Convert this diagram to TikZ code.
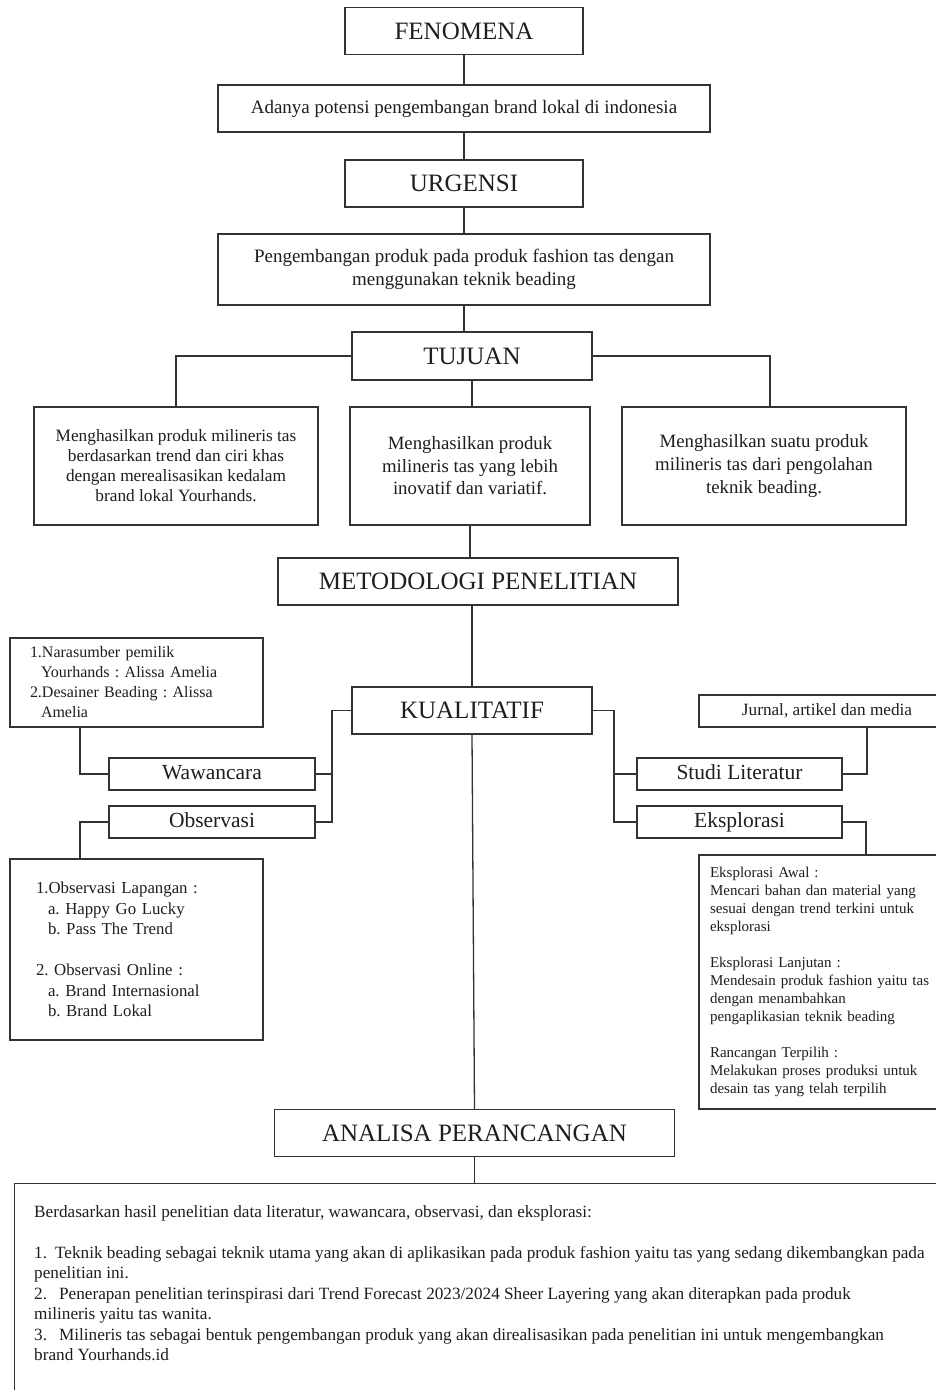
\documentclass[tikz,border=0pt]{standalone}
\usepackage{fontspec}
\setmainfont{Liberation Serif}
\definecolor{ln}{HTML}{333333}
\definecolor{tx}{HTML}{1E1E1E}
\begin{document}
\frenchspacing
\begin{tikzpicture}[x=1pt,y=-1pt,
  box/.style={draw=ln,line width=1.3pt,rectangle,inner sep=0pt,text=tx,align=center},
  title/.style={box,font=\fontsize{25}{30}\selectfont,text height=17pt,text depth=1pt},
  body/.style={box,font=\fontsize{19}{23.5}\selectfont},
  sub/.style={box,font=\fontsize{21.5}{24}\selectfont,minimum width=206pt,minimum height=32pt,text height=15pt,text depth=4pt},
  conn/.style={draw=ln,line width=1.3pt},
]
\useasboundingbox (0,0) rectangle (936,1390);
\fill[white] (0,0) rectangle (936,1390);

% top chain
\node[title,minimum width=238pt,minimum height=47pt] (fen) at (464,31) {FENOMENA};
\node[body,minimum width=492pt,minimum height=47pt] (ada) at (464,108.5) {Adanya potensi pengembangan brand lokal di indonesia};
\node[title,minimum width=238pt,minimum height=47pt] (urg) at (464,183.5) {URGENSI};
\node[body,minimum width=492pt,minimum height=71pt] (peng) at (464,269.5) {Pengembangan produk pada produk fashion tas dengan\\menggunakan teknik beading};
\node[title,minimum width=240pt,minimum height=48pt] (tuj) at (472,356) {TUJUAN};

% tujuan boxes
\node[box,minimum width=284pt,minimum height=118pt,font=\fontsize{17.3}{20}\selectfont] (t1) at (176,466)
  {Menghasilkan produk milineris tas\\berdasarkan trend dan ciri khas\\dengan merealisasikan kedalam\\brand lokal Yourhands.};
\node[box,minimum width=240pt,minimum height=118pt,font=\fontsize{18.8}{22.5}\selectfont] (t2) at (470,466)
  {Menghasilkan produk\\milineris tas yang lebih\\inovatif dan variatif.};
\node[box,minimum width=284pt,minimum height=118pt,font=\fontsize{18.8}{23}\selectfont] (t3) at (764,466)
  {Menghasilkan suatu produk\\milineris tas dari pengolahan\\teknik beading.};

\node[title,minimum width=400pt,minimum height=47pt] (met) at (478,581.5) {METODOLOGI PENELITIAN};
\node[title,minimum width=240pt,minimum height=47pt] (kual) at (472,710.5) {KUALITATIF};

% left branch
\node[box,minimum width=253pt,minimum height=89pt,text width=213pt,inner xsep=20pt,align=left,font=\fontsize{16}{20}\selectfont] (nara) at (136.5,682.5)
  {1.Narasumber pemilik\\\hspace*{11pt}Yourhands : Alissa Amelia\\2.Desainer Beading : Alissa\\\hspace*{11pt}Amelia};
\node[sub] (waw) at (212,774) {Wawancara};
\node[sub] (obs) at (212,822) {Observasi};
\node[box,minimum width=253pt,minimum height=181pt,text width=201pt,inner xsep=26pt,align=left,font=\fontsize{16.8}{20.5}\selectfont] (obsbox) at (136.5,949.5)
  {1.Observasi Lapangan :\\\hspace*{12pt}a. Happy Go Lucky\\\hspace*{12pt}b. Pass The Trend\\[20.5pt]2. Observasi Online :\\\hspace*{12pt}a. Brand Internasional\\\hspace*{12pt}b. Brand Lokal};

% right branch
\node[box,minimum width=256pt,minimum height=32pt,font=\fontsize{17.2}{19}\selectfont] (jur) at (827,711) {Jurnal, artikel dan media};
\node[sub,minimum width=205pt] (stu) at (739.5,774) {Studi Literatur};
\node[sub,minimum width=205pt] (eks) at (739.5,822) {Eksplorasi};
\node[box,minimum width=256pt,minimum height=254pt,text width=234pt,inner xsep=11pt,align=left,font=\fontsize{15}{18}\selectfont] (eksbox) at (827,982)
  {Eksplorasi Awal :\\Mencari bahan dan material yang\\sesuai dengan trend terkini untuk\\eksplorasi\\[18pt]Eksplorasi Lanjutan :\\Mendesain produk fashion yaitu tas\\dengan menambahkan\\pengaplikasian teknik beading\\[18pt]Rancangan Terpilih :\\Melakukan proses produksi untuk\\desain tas yang telah terpilih};

% bottom
\node[title,minimum width=400pt,minimum height=47pt] (ana) at (474.5,1133) {ANALISA PERANCANGAN};
\node[box,anchor=north west,minimum width=944pt,minimum height=217pt] (res) at (14,1183) {};
\node[anchor=north west,inner sep=0pt,align=left,text=tx,font=\fontsize{17.2}{20.5}\selectfont] (restext) at (34,1205)
  {Berdasarkan hasil penelitian data literatur, wawancara, observasi, dan eksplorasi:\\[20.5pt]
   1.\hspace{8pt}Teknik beading sebagai teknik utama yang akan di aplikasikan pada produk fashion yaitu tas yang sedang dikembangkan pada\\
   penelitian ini.\\
   2.\hspace{12pt}Penerapan penelitian terinspirasi dari Trend Forecast 2023/2024 Sheer Layering yang akan diterapkan pada produk\\
   milineris yaitu tas wanita.\\
   3.\hspace{12pt}Milineris tas sebagai bentuk pengembangan produk yang akan direalisasikan pada penelitian ini untuk mengembangkan\\
   brand Yourhands.id};

% connectors
\draw[conn] (fen.south) -- (ada.north);
\draw[conn] (ada.south) -- (urg.north);
\draw[conn] (urg.south) -- (peng.north);
\draw[conn] (peng.south) -- (peng.south |- tuj.north);
\draw[conn] (tuj.west) -| (t1.north);
\draw[conn] (tuj.east) -| ([xshift=6pt]t3.north);
\draw[conn] (tuj.south) -- (tuj.south |- t2.north);
\draw[conn] (t2.south) -- (t2.south |- met.north);
\draw[conn] (kual.north |- met.south) -- (kual.north);

\coordinate (lj) at (332,710.5);
\coordinate (rj) at (614,710.5);
\draw[conn] (kual.west) -- (lj) |- (obs.east);
\draw[conn] (lj |- waw.east) -- (waw.east);
\draw[conn] (kual.east) -- (rj) |- (eks.west);
\draw[conn] (rj |- stu.west) -- (stu.west);

\draw[conn] ([xshift=-56.5pt]nara.south) |- (waw.west);
\draw[conn] (obs.west) -| ([xshift=-56.5pt]obsbox.north);
\draw[conn] ([xshift=40pt]jur.south) |- (stu.east);
\draw[conn] (eks.east) -| ([xshift=39pt]eksbox.north);

\draw[conn] (kual.south) -- (ana.north);
\draw[conn] (ana.south) -- (ana.south |- res.north);
\end{tikzpicture}
\end{document}
